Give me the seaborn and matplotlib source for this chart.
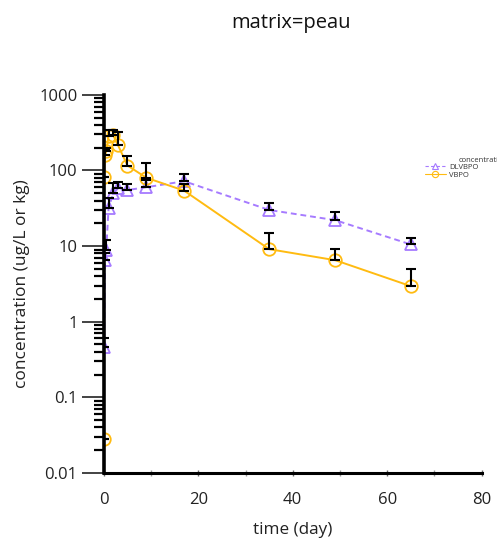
import matplotlib
matplotlib.use("Agg")
import matplotlib.pyplot as plt
import seaborn as sns
import pandas as pd
import numpy as np
from matplotlib.lines import Line2D
from matplotlib.ticker import LogLocator, MultipleLocator, FixedFormatter, FixedLocator

sns.set_style("white")
plt.rcParams['font.family'] = ['Open Sans', 'DejaVu Sans']

# values
time_vbpo = [0, 0.04, 0.25, 0.5, 1, 2, 3, 5, 9, 17, 35, 49, 65]
conc_vbpo = [0.028, 82, 160, 178, 285, 290, 215, 116, 80, 54, 9.1, 6.5, 2.95]
upper_vbpo = [0.028, 82, 185, 200, 340, 340, 322, 153, 125, 67, 14.7, 9.1, 4.9]

time_dlvbpo = [0.04, 0.25, 0.5, 1, 2, 3, 5, 9, 17, 35, 49, 65]
conc_dlvbpo = [0.46, 6.5, 9.0, 32, 50, 58, 55, 60, 72, 30, 22, 10.5]
upper_dlvbpo = [0.6, 8.0, 12, 43, 68, 70, 66, 75, 90, 37.5, 28.5, 12.6]

series = ["DLVBPO", "VBPO"]
colors = {"DLVBPO": "#a67bff", "VBPO": "#ffbb11"}
markers = {"DLVBPO": "^", "VBPO": "o"}
styles = {"DLVBPO": (0, (3, 2)), "VBPO": "-"}


def main():
	df = pd.concat([
		pd.DataFrame({"time": time_dlvbpo, "conc": conc_dlvbpo, "upper": upper_dlvbpo, "series": "DLVBPO"}),
		pd.DataFrame({"time": time_vbpo, "conc": conc_vbpo, "upper": upper_vbpo, "series": "VBPO"}),
	])

	fig = plt.figure(figsize=(4.97, 5.48), dpi=100)
	ax = fig.add_axes([0.209, 0.137, 0.760, 0.690])

	handles = []
	for name in series:
		sub = df[df["series"] == name]
		sns.lineplot(data=sub, x="time", y="conc", ax=ax, color=colors[name],
			marker=markers[name], markersize=9, markerfacecolor="none",
			markeredgecolor=colors[name], markeredgewidth=1.3,
			linestyle=styles[name], linewidth=1.4, errorbar=None, sort=True)
		ax.errorbar(sub["time"], sub["conc"],
			yerr=[np.zeros(len(sub)), sub["upper"] - sub["conc"]],
			fmt="none", ecolor="black", elinewidth=1.5, capsize=3.5, capthick=1.5, zorder=5)
		handles.append(Line2D([0], [0], color=colors[name], marker=markers[name],
			markersize=4.5, markerfacecolor="none", markeredgecolor=colors[name],
			markeredgewidth=0.8, linestyle=styles[name], linewidth=0.8))

	ax.set_yscale("log")
	ax.set_ylim(0.01, 1000)
	ax.set_xlim(0, 80)

	ax.yaxis.set_major_locator(FixedLocator([0.01, 0.1, 1, 10, 100, 1000]))
	ax.yaxis.set_major_formatter(FixedFormatter(["0.01", "0.1", "1", "10", "100", "1000"]))
	ax.yaxis.set_minor_locator(LogLocator(base=10, subs=np.arange(2, 10)))
	ax.xaxis.set_major_locator(MultipleLocator(20))
	ax.xaxis.set_minor_locator(MultipleLocator(10))

	ax.tick_params(axis="y", which="major", direction="out", length=16, width=1.2,
		color="#222222", labelsize=12, labelcolor="#222222", pad=3, left=True)
	ax.tick_params(axis="y", which="minor", direction="out", length=7, width=1.6,
		color="black", left=True)
	ax.tick_params(axis="x", which="major", direction="inout", length=5, width=1,
		color="#666666", labelsize=12, labelcolor="#222222", pad=11, bottom=True)
	ax.tick_params(axis="x", which="minor", direction="inout", length=4, width=1,
		color="#999999", bottom=True)

	for side in ["top", "right"]:
		ax.spines[side].set_visible(False)
	ax.spines["left"].set_linewidth(2.6)
	ax.spines["bottom"].set_linewidth(2.2)
	ax.spines["left"].set_color("black")
	ax.spines["bottom"].set_color("black")
	ax.grid(False)

	ax.set_xlabel("time (day)", fontsize=12.3, color="#222222", labelpad=10)
	ax.set_ylabel("concentration (ug/L or kg)", fontsize=12.5, color="#222222", labelpad=7)
	fig.text(0.585, 0.958, "matrix=peau", fontsize=14.5, ha="center", va="center", color="#111111")

	leg = fig.legend(handles, series, loc="upper left", bbox_to_anchor=(0.848, 0.707),
		frameon=False, fontsize=5.5, handlelength=2.8, handletextpad=0.4,
		labelspacing=0.1, borderaxespad=0)
	for t in leg.get_texts():
		t.set_color("#333333")
	fig.text(0.922, 0.708, "concentration", fontsize=5.5, color="#333333", va="center")

	fig.savefig("out.png", dpi=100)


if __name__ == "__main__":
	main()
